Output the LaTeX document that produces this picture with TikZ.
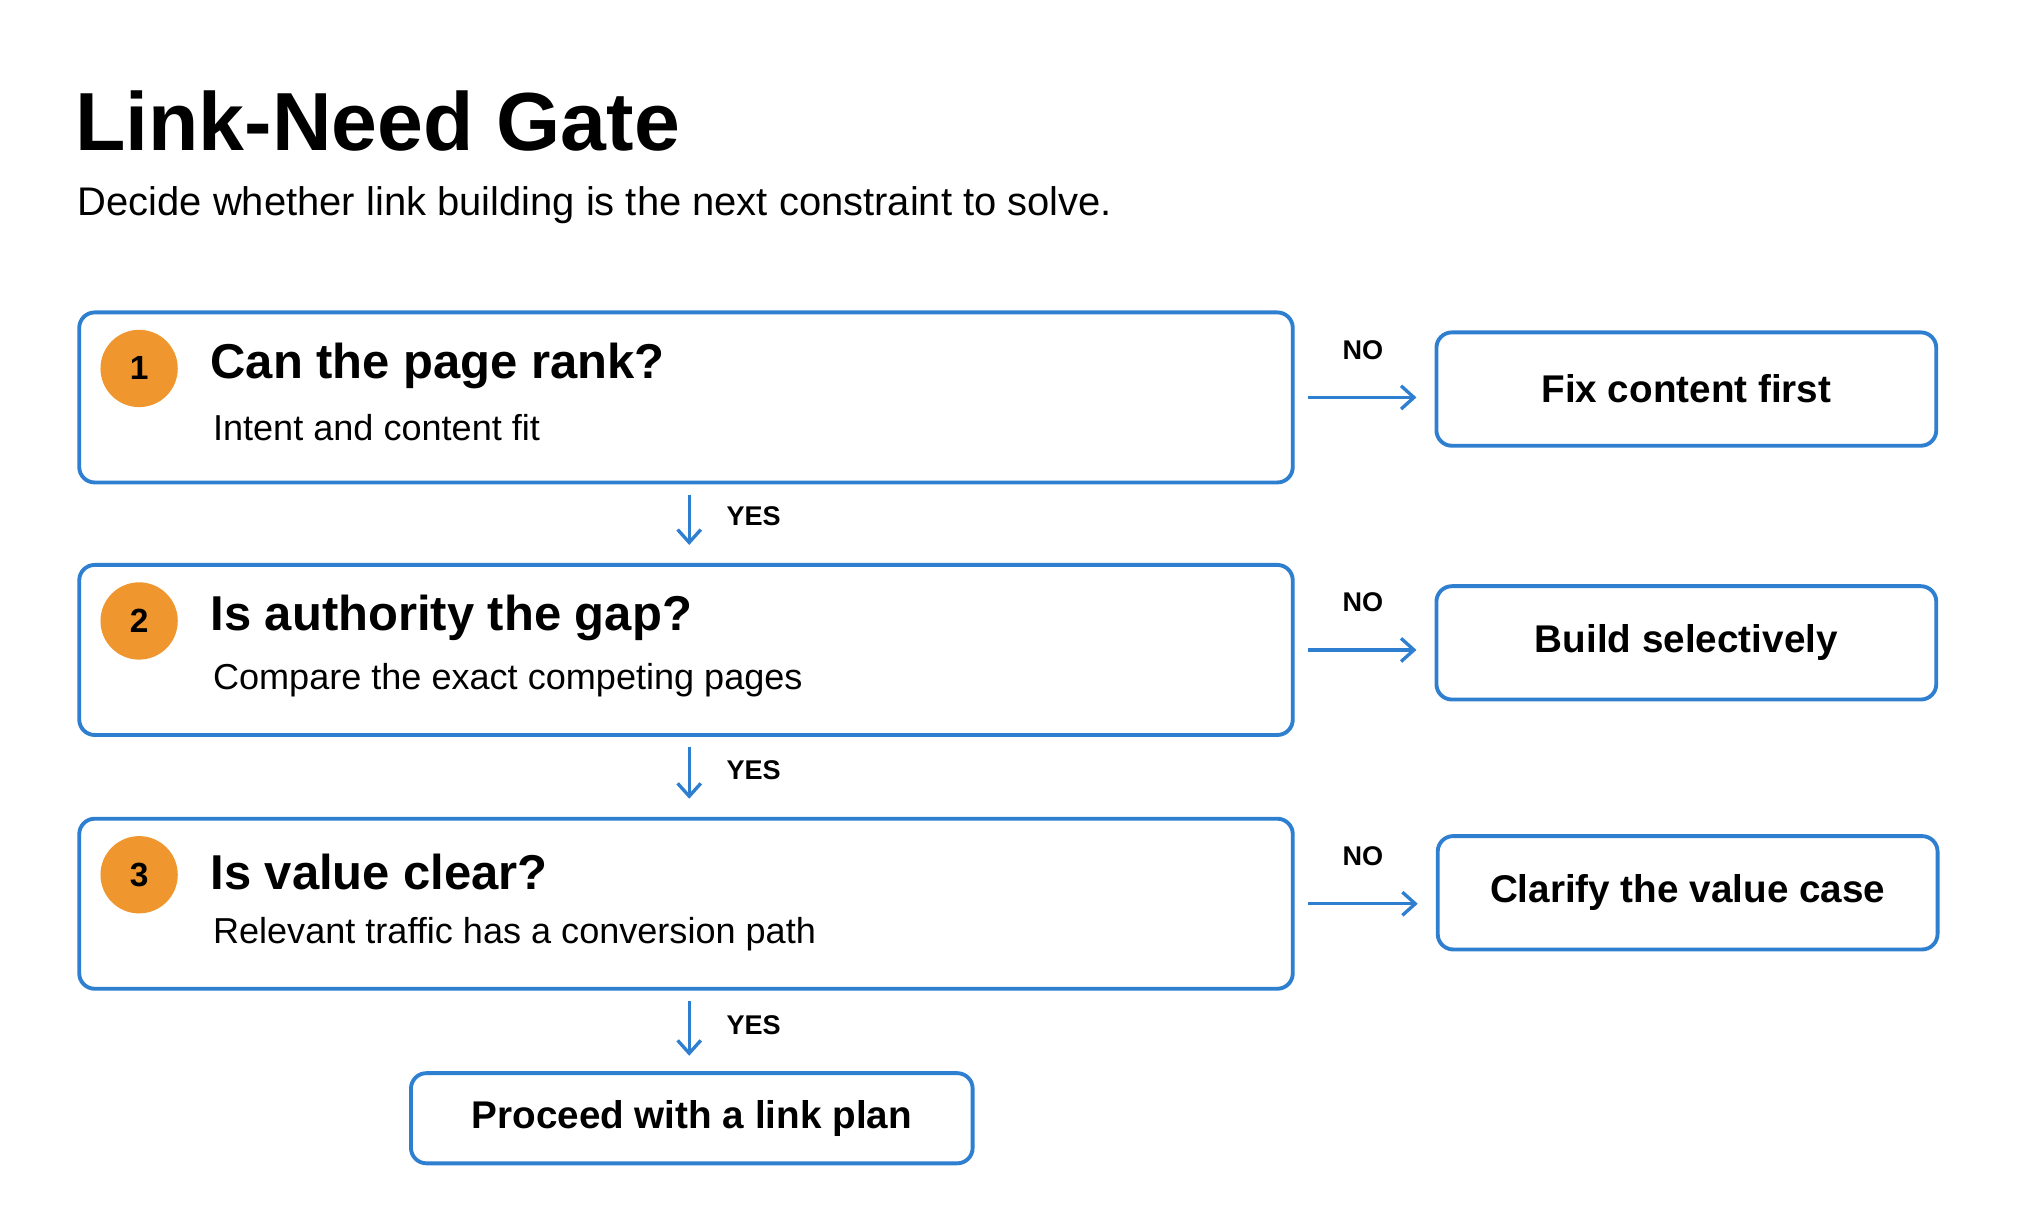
\documentclass[tikz,border=0pt]{standalone}
\usepackage{fontspec}
\setmainfont{Liberation Sans}
\usetikzlibrary{arrows.meta,calc}
\definecolor{bl}{HTML}{2F7FD0}
\definecolor{og}{HTML}{F0962E}
\begin{document}
\begin{tikzpicture}[x=0.5pt,y=-0.5pt,
  box/.style={draw=bl,line width=1.5pt,rounded corners=6pt,fill=white},
  num/.style={circle,fill=og,minimum size=30pt,inner sep=0pt,font=\fontsize{13}{15}\selectfont\bfseries},
  head/.style={anchor=west,inner sep=0pt,font=\fontsize{19}{22}\selectfont\bfseries},
  sub/.style={anchor=west,inner sep=0pt,font=\fontsize{14}{17}\selectfont},
  side/.style={font=\fontsize{15}{18}\selectfont\bfseries},
  lab/.style={font=\fontsize{10.5}{12}\selectfont\bfseries,inner sep=0pt},
  arr/.style={draw=bl,line width=1.3pt,-{Straight Barb[length=5pt,width=9pt]}}]
\useasboundingbox (0,0) rectangle (1568,950);
\node[anchor=base west,inner sep=0pt,font=\fontsize{32}{36}\selectfont\bfseries] (title) at (58,117) {Link-Need Gate};
\node[anchor=base west,inner sep=0pt,font=\fontsize{15.5}{18}\selectfont] (subt) at (60,167) {Decide whether link building is the next constraint to solve.};
\foreach \i/\y/\h/\s in {1/241/Can the page rank?/Intent and content fit,
                          2/437/Is authority the gap?/Compare the exact competing pages,
                          3/634/Is value clear?/Relevant traffic has a conversion path}{
  \node[box,minimum width=471pt,minimum height=66pt,anchor=north west] (b\i) at (60,\y) {};
  \node[num] (n\i) at (108,\y+45) {\i};
  \node[head] (h\i) at (163,\y+43) {\h};
  \node[sub] (s\i) at (165,\y+91) {\s};
}
\node[box,minimum width=194pt,minimum height=44pt,side] (r1) at (1309,302) {Fix content first};
\node[box,minimum width=194pt,minimum height=44pt,side] (r2) at (1309,499) {Build selectively};
\node[box,minimum width=194pt,minimum height=44pt,side] (r3) at (1310,693) {Clarify the value case};
\node[box,minimum width=218pt,minimum height=35pt,side] (fin) at (537,868) {Proceed with a link plan};
\foreach \i in {1,2,3}{
  \draw[arr] ([xshift=5pt]b\i.east) -- ([xshift=-7pt]r\i.west |- b\i.east) coordinate (e\i);
  \node[lab] (no\i) at ($(b\i.east)+(53,-37)$) {NO};
}
\draw[arr] ([yshift=-4pt]b1.south -| 535,0) -- ([yshift=7pt]b2.north -| 535,0);
\draw[arr] ([yshift=-4pt]b2.south -| 535,0) -- ([yshift=7pt]b3.north -| 535,0);
\draw[arr] ([yshift=-4pt]b3.south -| 535,0) -- ([yshift=6pt]fin.north -| 535,0);
\node[lab] (y1) at (585,401) {YES};
\node[lab] (y2) at (585,598) {YES};
\node[lab] (y3) at (585,796) {YES};
\end{tikzpicture}
\end{document}
